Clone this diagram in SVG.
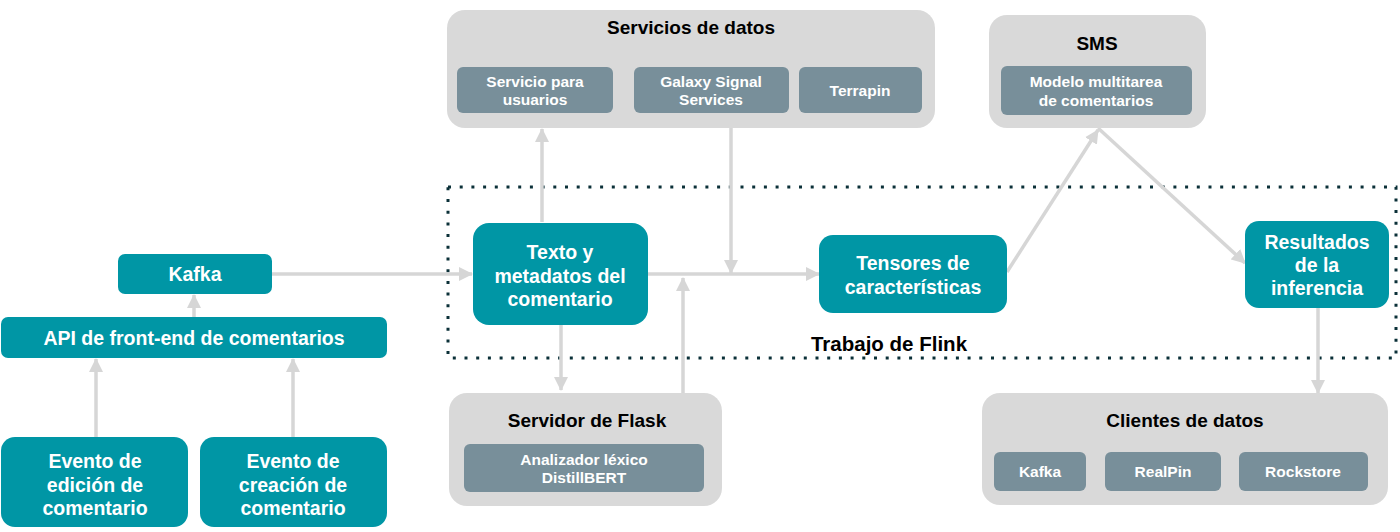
<svg xmlns="http://www.w3.org/2000/svg" width="1400" height="532" viewBox="0 0 1400 532">
<style>
.teal{fill:#0096A5;}
.grp{fill:#D9D9D9;}
.sub{fill:#788F9A;}
.wt{font-family:"Liberation Sans",Arial,sans-serif;font-weight:bold;fill:#fff;text-anchor:middle;font-size:19.5px;}
.st{font-family:"Liberation Sans",Arial,sans-serif;font-weight:bold;fill:#fff;text-anchor:middle;font-size:15.5px;}
.gt{font-family:"Liberation Sans",Arial,sans-serif;font-weight:bold;fill:#000;text-anchor:middle;font-size:19px;}
.conn{stroke:#D6D6D6;stroke-width:3.5;fill:none;}
</style>
<defs>
<marker id="ah" markerUnits="userSpaceOnUse" markerWidth="16" markerHeight="14" refX="13" refY="7" orient="auto">
<path d="M0,0 L14,7 L0,14 Z" fill="#D6D6D6"/>
</marker>
</defs>
<rect id="flink" x="448" y="187" width="948" height="171" fill="none" stroke="#0b3038" stroke-width="3" stroke-dasharray="3 8.7"/>
<text class="gt" x="889" y="351" style="font-size:20.5px">Trabajo de Flink</text>
<g id="connectors">
<line class="conn" x1="194" y1="317" x2="194" y2="295" marker-end="url(#ah)"/>
<line class="conn" x1="96" y1="437" x2="96" y2="359" marker-end="url(#ah)"/>
<line class="conn" x1="293" y1="437" x2="293" y2="359" marker-end="url(#ah)"/>
<line class="conn" x1="272" y1="274" x2="472" y2="274" marker-end="url(#ah)"/>
<line class="conn" x1="542" y1="222" x2="542" y2="129" marker-end="url(#ah)"/>
<line class="conn" x1="731" y1="128" x2="731" y2="273" marker-end="url(#ah)"/>
<line class="conn" x1="648" y1="274" x2="819" y2="274" marker-end="url(#ah)"/>
<line class="conn" x1="561" y1="325" x2="561" y2="390" marker-end="url(#ah)"/>
<line class="conn" x1="683" y1="393" x2="683" y2="278" marker-end="url(#ah)"/>
<line class="conn" x1="1007" y1="272" x2="1098" y2="130" marker-end="url(#ah)"/>
<line class="conn" x1="1098" y1="128" x2="1245" y2="263" marker-end="url(#ah)"/>
<line class="conn" x1="1318" y1="308" x2="1318" y2="393" marker-end="url(#ah)"/>
</g>
<g id="kafka">
<rect class="teal" x="118" y="254" width="154" height="40" rx="7"/>
<text class="wt" x="195" y="281">Kafka</text>
</g>
<g id="api">
<rect class="teal" x="1" y="317" width="386" height="41" rx="7"/>
<text class="wt" x="194" y="345">API de front-end de comentarios</text>
</g>
<g id="evento-edicion">
<rect class="teal" x="1" y="437" width="187" height="90" rx="14"/>
<text class="wt" x="95" y="468">Evento de</text>
<text class="wt" x="95" y="492">edición de</text>
<text class="wt" x="95" y="515">comentario</text>
</g>
<g id="evento-creacion">
<rect class="teal" x="200" y="437" width="187" height="90" rx="14"/>
<text class="wt" x="293" y="468">Evento de</text>
<text class="wt" x="293" y="492">creación de</text>
<text class="wt" x="293" y="515">comentario</text>
</g>
<g id="servicios-datos">
<rect class="grp" x="447" y="10" width="488" height="118" rx="18"/>
<text class="gt" x="691" y="34">Servicios de datos</text>
<rect class="sub" x="457" y="67" width="156" height="46" rx="6"/>
<text class="st" x="535" y="87">Servicio para</text>
<text class="st" x="535" y="105">usuarios</text>
<rect class="sub" x="634" y="67" width="155" height="46" rx="6"/>
<text class="st" x="711" y="87">Galaxy Signal</text>
<text class="st" x="711" y="105">Services</text>
<rect class="sub" x="799" y="67" width="123" height="46" rx="6"/>
<text class="st" x="860" y="96">Terrapin</text>
</g>
<g id="sms">
<rect class="grp" x="989" y="15" width="217" height="113" rx="18"/>
<text class="gt" x="1097" y="50">SMS</text>
<rect class="sub" x="1001" y="66" width="191" height="49" rx="6"/>
<text class="st" x="1096" y="87">Modelo multitarea</text>
<text class="st" x="1096" y="106">de comentarios</text>
</g>
<g id="texto">
<rect class="teal" x="473" y="223" width="175" height="102" rx="16"/>
<text class="wt" x="560" y="259">Texto y</text>
<text class="wt" x="560" y="283">metadatos del</text>
<text class="wt" x="560" y="306">comentario</text>
</g>
<g id="tensores">
<rect class="teal" x="819" y="235" width="188" height="78" rx="14"/>
<text class="wt" x="913" y="270">Tensores de</text>
<text class="wt" x="913" y="294">características</text>
</g>
<g id="resultados">
<rect class="teal" x="1245" y="221" width="144" height="87" rx="14"/>
<text class="wt" x="1317" y="249">Resultados</text>
<text class="wt" x="1317" y="272">de la</text>
<text class="wt" x="1317" y="295">inferencia</text>
</g>
<g id="flask">
<rect class="grp" x="449" y="393" width="273" height="113" rx="18"/>
<text class="gt" x="587" y="427">Servidor de Flask</text>
<rect class="sub" x="464" y="444" width="240" height="48" rx="6"/>
<text class="st" x="584" y="465">Analizador léxico</text>
<text class="st" x="584" y="483">DistillBERT</text>
</g>
<g id="clientes">
<rect class="grp" x="982" y="393" width="406" height="112" rx="18"/>
<text class="gt" x="1185" y="427">Clientes de datos</text>
<rect class="sub" x="994" y="452" width="92" height="39" rx="6"/>
<text class="st" x="1040" y="477">Kafka</text>
<rect class="sub" x="1105" y="452" width="116" height="39" rx="6"/>
<text class="st" x="1163" y="477">RealPin</text>
<rect class="sub" x="1239" y="452" width="129" height="39" rx="6"/>
<text class="st" x="1303" y="477">Rockstore</text>
</g>
</svg>
